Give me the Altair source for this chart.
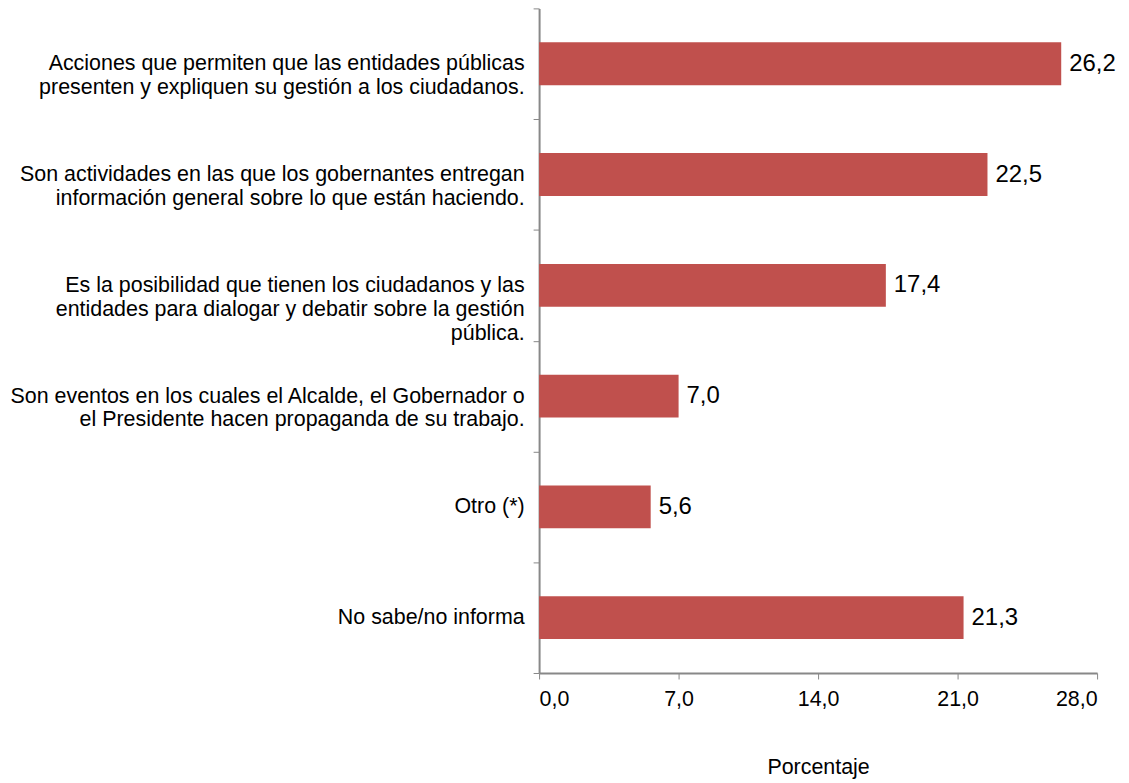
import altair as alt
import pandas as pd

categories = [
    "Acciones que permiten que las entidades públicas|presenten y expliquen su gestión a los ciudadanos.",
    "Son actividades en las que los gobernantes entregan|información general sobre lo que están haciendo.",
    "Es la posibilidad que tienen los ciudadanos y las|entidades para dialogar y debatir sobre la gestión|pública.",
    "Son eventos en los cuales el Alcalde, el Gobernador o|el Presidente hacen propaganda de su trabajo.",
    "Otro (*)",
    "No sabe/no informa",
]
values = [26.2, 22.5, 17.4, 7.0, 5.6, 21.3]
x_ticks = [0, 7, 14, 21, 28]

df = pd.DataFrame({"cat": categories, "value": values})

FONT = "Liberation Sans"
FS = 21.5
BAR = "#C0504D"
AX = "#888888"

y_enc = alt.Y(
    "cat:N",
    sort=categories,
    scale=alt.Scale(paddingInner=0, paddingOuter=0),
    axis=alt.Axis(
        title=None,
        labelExpr="split(datum.label, '|')",
        labelFont=FONT,
        labelFontSize=FS,
        labelColor="#000000",
        labelLineHeight=24,
        labelPadding=9,
        labelLimit=0,
        tickBand="extent",
        tickSize=6,
        tickColor=AX,
        domainColor=AX,
        domainWidth=2,
        tickWidth=1,
        grid=False,
    ),
)

x_enc = alt.X(
    "value:Q",
    scale=alt.Scale(domain=[0, 28], nice=False),
    axis=alt.Axis(
        title="Porcentaje",
        values=x_ticks,
        labelExpr="replace(format(datum.value, '.1f'), '.', ',')",
        labelFont=FONT,
        labelFontSize=FS,
        labelColor="#000000",
        labelPadding=10,
        titleFont=FONT,
        titleFontSize=FS,
        titleFontWeight="normal",
        titleColor="#000000",
        titlePadding=46,
        tickSize=6,
        tickColor=AX,
        domainColor=AX,
        domainWidth=2,
        grid=False,
    ),
)

base = alt.Chart(df).encode(y=y_enc, x=x_enc)

bars = base.mark_bar(color=BAR, size=43)
texts = base.mark_text(
    align="left", baseline="middle", dx=8, font=FONT, fontSize=24, color="#000000"
).transform_calculate(
    lab="replace(format(datum.value, '.1f'), '.', ',')"
).encode(text="lab:N")

chart = (
    (bars + texts)
    .properties(width=560, height=667, padding={"top": -12, "left": 0, "right": 5, "bottom": 0})
    .configure_view(stroke=None)
)

chart.save("out.html", embed_options={"renderer": "svg", "actions": False})
